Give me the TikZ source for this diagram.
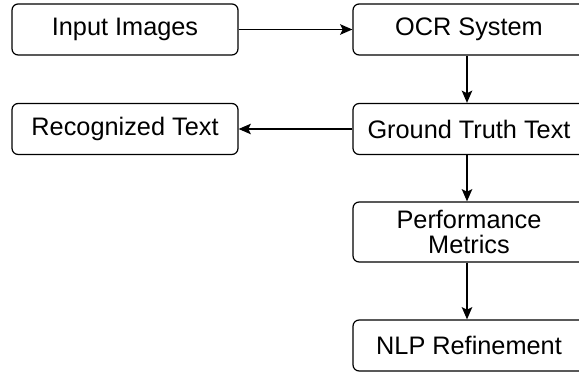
\documentclass[tikz,border=0pt]{standalone}
\usepackage{fontspec}
\setmainfont{Liberation Sans}
\usetikzlibrary{arrows.meta, positioning}

\tikzset{
    stage/.style={draw=black, line width=0.7pt, rounded corners=3.5pt, minimum height=1.02cm, inner sep=0pt, align=center, font=\fontsize{14.4}{14.2}\selectfont},
    flow/.style={-{Stealth[length=7pt, width=6pt, inset=1.5pt]}, line width=0.9pt},
}

\begin{document}
\begin{tikzpicture}
        \useasboundingbox (0,0) rectangle (11.58,-7.46);

        \node[stage, minimum width=4.52cm] (input) at (2.5,-0.59) {Input Images};
        \node[stage, minimum width=4.64cm] (ocr) at (9.38,-0.59) {OCR System};
        \node[stage, minimum width=4.52cm] (recog) at (2.5,-2.58) {Recognized Text};
        \node[stage, minimum width=4.64cm] (truth) at (9.38,-2.58) {Ground Truth Text};
        \node[stage, minimum width=4.64cm, minimum height=1.2cm] (metrics) at (9.38,-4.64) {Performance\\Metrics};
        \node[stage, minimum width=4.64cm] (nlp) at (9.38,-6.91) {NLP Refinement};

        \draw[flow] (input) -- (ocr);
        \draw[flow] (ocr.south -| 9.34,0) -- (truth.north -| 9.34,0);
        \draw[flow, line width=0.6pt] (truth) -- (recog);
        \draw[flow] (truth.south -| 9.34,0) -- (metrics.north -| 9.34,0);
        \draw[flow] (metrics.south -| 9.34,0) -- (nlp.north -| 9.34,0);

    \end{tikzpicture}
\end{document}
